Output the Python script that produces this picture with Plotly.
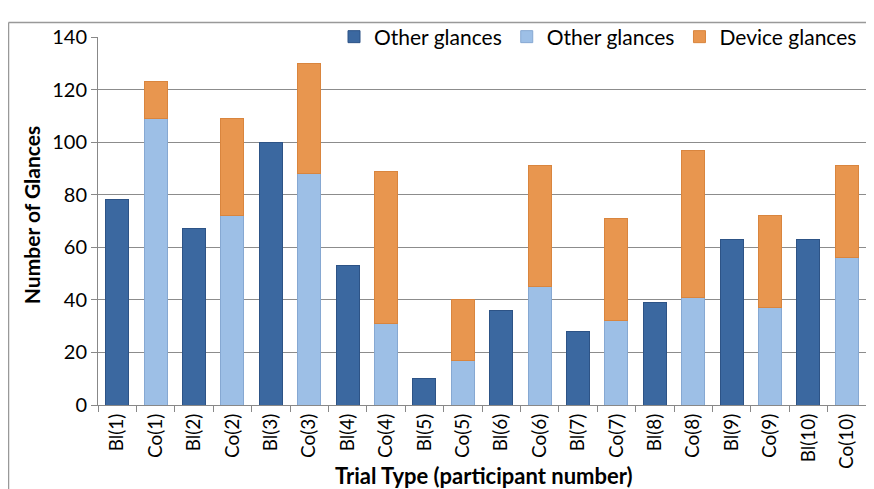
import plotly.graph_objects as go

categories = ["Bl(1)", "Co(1)", "Bl(2)", "Co(2)", "Bl(3)", "Co(3)", "Bl(4)", "Co(4)",
              "Bl(5)", "Co(5)", "Bl(6)", "Co(6)", "Bl(7)", "Co(7)", "Bl(8)", "Co(8)",
              "Bl(9)", "Co(9)", "Bl(10)", "Co(10)"]
bl_other = [78, None, 67, None, 100, None, 53, None, 10, None, 36, None, 28, None, 39, None, 63, None, 63, None]
co_other = [None, 109, None, 72, None, 88, None, 31, None, 17, None, 45, None, 32, None, 41, None, 37, None, 56]
co_device = [None, 14, None, 37, None, 42, None, 58, None, 23, None, 46, None, 39, None, 56, None, 35, None, 35]
tick_vals = [0, 20, 40, 60, 80, 100, 120, 140]

FONT = "Lato"

fig = go.Figure()
fig.add_trace(go.Bar(x=categories, y=bl_other, name="Other glances",
                     marker=dict(color="#3b68a0", line=dict(color="#2d5386", width=1))))
fig.add_trace(go.Bar(x=categories, y=co_other, name="Other glances",
                     marker=dict(color="#9dbfe6", line=dict(color="#86a8d2", width=1))))
fig.add_trace(go.Bar(x=categories, y=co_device, name="Device glances",
                     marker=dict(color="#e8964f", line=dict(color="#d9853e", width=1))))

# page body has an 8px margin; screenshot coords = figure coords + 8
OFF = 8
W, H = 874 - OFF, 489 - OFF
L = 98 - OFF
T = 27 - OFF
R = W - (866 - OFF)
B = H - (405 - OFF)
pw, ph = W - L - R, H - T - B
def px_x(p):
    return (p - OFF - L) / pw
def px_y(p):
    return ((H - B) - (p - OFF)) / ph

fig.update_layout(
    width=W, height=H,
    margin=dict(l=L, r=R, t=T, b=B),
    paper_bgcolor="white", plot_bgcolor="white",
    barmode="stack", bargap=0.4,
    font=dict(family=FONT, color="black"),
    showlegend=True,
    legend=dict(orientation="h", x=px_x(862), xanchor="right", y=px_y(27), yanchor="middle",
                font=dict(size=21, family=FONT), bgcolor="rgba(255,255,255,0)",
                itemwidth=30, traceorder="normal", itemclick=False),
    xaxis=dict(type="category", tickangle=-90, tickfont=dict(size=19, family=FONT),
               tickson="boundaries", ticks="outside", ticklen=6, tickcolor="#888888",
               showline=True, linecolor="#888888", linewidth=1, showgrid=False),
    yaxis=dict(range=[0, 140], tickvals=tick_vals, tickfont=dict(size=20, family=FONT),
               ticks="outside", ticklen=6, tickcolor="#888888",
               showline=True, linecolor="#888888", linewidth=1,
               showgrid=True, gridcolor="#8c8c8c", gridwidth=1, zeroline=False),
    annotations=[
        dict(text="<b>Trial Type (participant number)</b>", xref="paper", yref="paper",
             x=px_x(484), y=px_y(477), xanchor="center", yanchor="middle", showarrow=False,
             font=dict(size=22, family=FONT)),
        dict(text="<b>Number of Glances</b>", xref="paper", yref="paper", textangle=-90,
             x=px_x(31), y=px_y(210), xanchor="center", yanchor="middle", showarrow=False,
             font=dict(size=21, family=FONT)),
    ],
    shapes=[
        dict(type="line", xref="paper", yref="paper", x0=px_x(8.5), x1=px_x(8.5), y0=px_y(12), y1=px_y(520),
             line=dict(color="#999999", width=1.5)),
        dict(type="line", xref="paper", yref="paper", x0=px_x(8.5), x1=px_x(900), y0=px_y(12), y1=px_y(12),
             line=dict(color="#999999", width=1.5)),
    ],
)

fig.write_html("out.html")
